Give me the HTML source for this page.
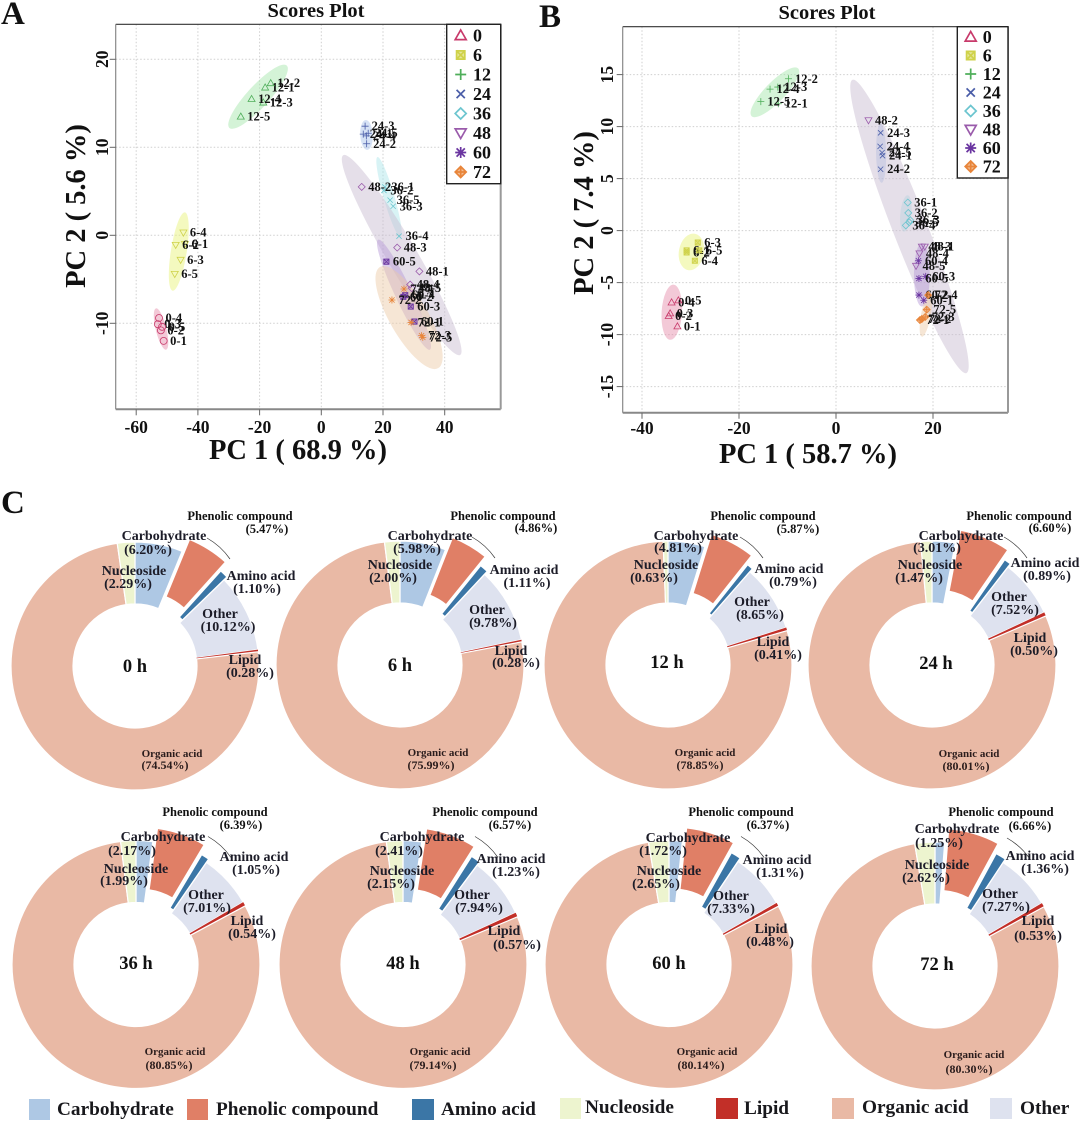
<!DOCTYPE html>
<html lang="en">
<head>
<meta charset="utf-8">
<title>Scores plots and metabolite composition donuts</title>
<style>
html,body{margin:0;padding:0;background:#fff;}
svg{display:block;}
text{font-family:"Liberation Serif",serif;font-weight:bold;fill:#111;}
.lb,.pc,.pp,.oa,.oap,.ctr,.axt,.sttl,.tick,.tk{text-anchor:middle;}
.lb{font-size:14px;fill:#1c1c28;}
.pc{font-size:12.5px;}
.pp{font-size:12.5px;}
.oa{font-size:11px;fill:#2a1c1c;}
.oap{font-size:12px;fill:#2a1c1c;}
.ctr{font-size:18.5px;}
.panel{font-size:33px;}
.axt{font-size:28.5px;}
.sttl{font-size:20.5px;}
.tick{font-size:17.5px;}
.leg{font-size:18px;}
.blg{font-size:19.3px;fill:#18181c;}
.ptl{font-size:12.5px;}
</style>
</head>
<body>
<svg id="figure" width="1080" height="1122" viewBox="0 0 1080 1122" xmlns="http://www.w3.org/2000/svg">
  <rect width="1080" height="1122" fill="#fff"/>
  <text class="panel" x="1" y="24">A</text>
  <text class="panel" x="539" y="27">B</text>
  <text class="panel" x="1" y="513">C</text>

  <text class="sttl" x="316" y="17">Scores Plot</text>
  <text class="sttl" x="827" y="19">Scores Plot</text>
  <text class="axt" x="298" y="459">PC 1 ( 68.9 %)</text>
  <text class="axt" x="808" y="463">PC 1 ( 58.7 %)</text>
  <text class="axt" transform="translate(85,206) rotate(-90)">PC 2 ( 5.6 %)</text>
  <text class="axt" transform="translate(593,213) rotate(-90)">PC 2 ( 7.4 %)</text>

  <g id="plot-a"></g>
  <g id="plot-b"></g>

  <g id="donuts"></g>

  <g>
    <text class="ctr" x="135" y="672">0 h</text>
    <text class="pc" x="240" y="520">Phenolic compound</text>
    <text class="pp" x="267" y="533">(5.47%)</text>
    <text class="lb" x="164" y="540">Carbohydrate</text>
    <text class="lb" x="148" y="554">(6.20%)</text>
    <text class="lb" x="134" y="575">Nucleoside</text>
    <text class="lb" x="128" y="588">(2.29%)</text>
    <text class="lb" x="261" y="580">Amino acid</text>
    <text class="lb" x="257" y="593">(1.10%)</text>
    <text class="lb" x="220" y="618">Other</text>
    <text class="lb" x="228" y="631">(10.12%)</text>
    <text class="lb" x="245" y="664">Lipid</text>
    <text class="lb" x="250" y="677">(0.28%)</text>
    <text class="oa" x="172" y="757">Organic acid</text>
    <text class="oap" x="165" y="769">(74.54%)</text>
  </g>
  <g>
    <text class="ctr" x="400" y="671">6 h</text>
    <text class="pc" x="503" y="520">Phenolic compound</text>
    <text class="pp" x="536" y="532">(4.86%)</text>
    <text class="lb" x="430" y="540">Carbohydrate</text>
    <text class="lb" x="417" y="553">(5.98%)</text>
    <text class="lb" x="400" y="569">Nucleoside</text>
    <text class="lb" x="393" y="582">(2.00%)</text>
    <text class="lb" x="524" y="574">Amino acid</text>
    <text class="lb" x="527" y="587">(1.11%)</text>
    <text class="lb" x="487" y="614">Other</text>
    <text class="lb" x="493" y="627">(9.78%)</text>
    <text class="lb" x="511" y="655">Lipid</text>
    <text class="lb" x="516" y="667">(0.28%)</text>
    <text class="oa" x="438" y="756">Organic acid</text>
    <text class="oap" x="431" y="769">(75.99%)</text>
  </g>
  <g>
    <text class="ctr" x="667" y="668">12 h</text>
    <text class="pc" x="763" y="520">Phenolic compound</text>
    <text class="pp" x="798" y="533">(5.87%)</text>
    <text class="lb" x="696" y="540">Carbohydrate</text>
    <text class="lb" x="678" y="552">(4.81%)</text>
    <text class="lb" x="666" y="569">Nucleoside</text>
    <text class="lb" x="654" y="582">(0.63%)</text>
    <text class="lb" x="789" y="573">Amino acid</text>
    <text class="lb" x="793" y="586">(0.79%)</text>
    <text class="lb" x="752" y="606">Other</text>
    <text class="lb" x="760" y="619">(8.65%)</text>
    <text class="lb" x="773" y="646">Lipid</text>
    <text class="lb" x="778" y="659">(0.41%)</text>
    <text class="oa" x="705" y="756">Organic acid</text>
    <text class="oap" x="700" y="769">(78.85%)</text>
  </g>
  <g>
    <text class="ctr" x="936" y="669">24 h</text>
    <text class="pc" x="1019" y="520">Phenolic compound</text>
    <text class="pp" x="1050" y="532">(6.60%)</text>
    <text class="lb" x="961" y="540">Carbohydrate</text>
    <text class="lb" x="937" y="552">(3.01%)</text>
    <text class="lb" x="930" y="569">Nucleoside</text>
    <text class="lb" x="919" y="582">(1.47%)</text>
    <text class="lb" x="1045" y="567">Amino acid</text>
    <text class="lb" x="1047" y="580">(0.89%)</text>
    <text class="lb" x="1009" y="601">Other</text>
    <text class="lb" x="1015" y="614">(7.52%)</text>
    <text class="lb" x="1030" y="642">Lipid</text>
    <text class="lb" x="1034" y="655">(0.50%)</text>
    <text class="oa" x="969" y="757">Organic acid</text>
    <text class="oap" x="966" y="770">(80.01%)</text>
  </g>
  <g>
    <text class="ctr" x="136" y="969">36 h</text>
    <text class="pc" x="215" y="816">Phenolic compound</text>
    <text class="pp" x="241" y="829">(6.39%)</text>
    <text class="lb" x="163" y="841">Carbohydrate</text>
    <text class="lb" x="132" y="855">(2.17%)</text>
    <text class="lb" x="136" y="873">Nucleoside</text>
    <text class="lb" x="124" y="885">(1.99%)</text>
    <text class="lb" x="254" y="861">Amino acid</text>
    <text class="lb" x="256" y="874">(1.05%)</text>
    <text class="lb" x="206" y="899">Other</text>
    <text class="lb" x="207" y="912">(7.01%)</text>
    <text class="lb" x="247" y="925">Lipid</text>
    <text class="lb" x="252" y="938">(0.54%)</text>
    <text class="oa" x="175" y="1055">Organic acid</text>
    <text class="oap" x="169" y="1069">(80.85%)</text>
  </g>
  <g>
    <text class="ctr" x="403" y="969">48 h</text>
    <text class="pc" x="485" y="816">Phenolic compound</text>
    <text class="pp" x="510" y="829">(6.57%)</text>
    <text class="lb" x="422" y="841">Carbohydrate</text>
    <text class="lb" x="399" y="855">(2.41%)</text>
    <text class="lb" x="402" y="875">Nucleoside</text>
    <text class="lb" x="391" y="888">(2.15%)</text>
    <text class="lb" x="511" y="863">Amino acid</text>
    <text class="lb" x="516" y="876">(1.23%)</text>
    <text class="lb" x="472" y="899">Other</text>
    <text class="lb" x="479" y="912">(7.94%)</text>
    <text class="lb" x="504" y="935">Lipid</text>
    <text class="lb" x="517" y="949">(0.57%)</text>
    <text class="oa" x="440" y="1055">Organic acid</text>
    <text class="oap" x="433" y="1069">(79.14%)</text>
  </g>
  <g>
    <text class="ctr" x="669" y="969">60 h</text>
    <text class="pc" x="741" y="816">Phenolic compound</text>
    <text class="pp" x="768" y="829">(6.37%)</text>
    <text class="lb" x="688" y="842">Carbohydrate</text>
    <text class="lb" x="663" y="855">(1.72%)</text>
    <text class="lb" x="669" y="875">Nucleoside</text>
    <text class="lb" x="656" y="888">(2.65%)</text>
    <text class="lb" x="777" y="864">Amino acid</text>
    <text class="lb" x="780" y="877">(1.31%)</text>
    <text class="lb" x="731" y="900">Other</text>
    <text class="lb" x="731" y="913">(7.33%)</text>
    <text class="lb" x="771" y="933">Lipid</text>
    <text class="lb" x="770" y="946">(0.48%)</text>
    <text class="oa" x="707" y="1055">Organic acid</text>
    <text class="oap" x="701" y="1069">(80.14%)</text>
  </g>
  <g>
    <text class="ctr" x="937" y="970">72 h</text>
    <text class="pc" x="1001" y="816">Phenolic compound</text>
    <text class="pp" x="1030" y="830">(6.66%)</text>
    <text class="lb" x="957" y="833">Carbohydrate</text>
    <text class="lb" x="939" y="847">(1.25%)</text>
    <text class="lb" x="937" y="869">Nucleoside</text>
    <text class="lb" x="926" y="882">(2.62%)</text>
    <text class="lb" x="1040" y="860">Amino acid</text>
    <text class="lb" x="1045" y="873">(1.36%)</text>
    <text class="lb" x="1000" y="898">Other</text>
    <text class="lb" x="1006" y="911">(7.27%)</text>
    <text class="lb" x="1038" y="925">Lipid</text>
    <text class="lb" x="1038" y="940">(0.53%)</text>
    <text class="oa" x="974" y="1058">Organic acid</text>
    <text class="oap" x="969" y="1073">(80.30%)</text>
  </g>

  <g>
    <rect x="29" y="1099" width="21" height="21" fill="#aec8e4"/>
    <text class="blg" x="57" y="1115">Carbohydrate</text>
    <rect x="187" y="1099" width="21" height="21" fill="#e07f66"/>
    <text class="blg" x="216" y="1115">Phenolic compound</text>
    <rect x="412" y="1099" width="22" height="21" fill="#3b76a6"/>
    <text class="blg" x="441" y="1115">Amino acid</text>
    <rect x="560" y="1098" width="21" height="21" fill="#edf4cf"/>
    <text class="blg" x="585" y="1113">Nucleoside</text>
    <rect x="716" y="1098" width="22" height="21" fill="#c22f28"/>
    <text class="blg" x="744" y="1114">Lipid</text>
    <rect x="832" y="1098" width="22" height="21" fill="#e9b9a5"/>
    <text class="blg" x="862" y="1113">Organic acid</text>
    <rect x="990" y="1098" width="22" height="21" fill="#dee2ef"/>
    <text class="blg" x="1020" y="1114">Other</text>
  </g>
</svg>

<script>
// ---------- Chart data ----------
const groupNames = ['0', '6', '12', '24', '36', '48', '60', '72'];

const xTicksA = [-60, -40, -20, 0, 20, 40];
const yTicksA = [-10, 0, 10, 20];
const xTicksB = [-40, -20, 0, 20];
const yTicksB = [-15, -10, -5, 0, 5, 10, 15];

const sampleNamesA = ['0-1','0-2','0-3','0-4','0-5','6-1','6-2','6-3','6-4','6-5','12-1','12-2','12-3','12-4','12-5','24-1','24-2','24-3','24-4','24-5','36-1','36-2','36-3','36-4','36-5','48-1','48-2','48-3','48-4','48-5','60-1','60-2','60-3','60-4','60-5','72-1','72-2','72-3','72-4','72-5'];
const pc1A = [-51.1,-52,-53,-52.6,-51.6,-44.2,-47.2,-45.6,-44.7,-47.5,-18.2,-16.4,-18.8,-22.6,-26.1,13.6,14.7,14.2,14.6,15.2,20.6,20.3,23.3,25.2,22.3,31.8,13.1,24.6,28.8,29.3,30.2,26.6,29,27.2,21.1,29.1,22.9,32.5,26.8,32.9];
const pc2A = [-12,-10.8,-10.1,-9.4,-10.4,-1,-1.1,-2.8,0.3,-4.4,16.8,17.3,15.1,15.5,13.5,11.5,10.4,12.4,11.3,11.6,5.5,5.1,3.3,-0.1,4,-4.1,5.5,-1.4,-5.6,-6,-9.8,-7,-8.1,-6.8,-3,-9.9,-7.35,-11.4,-6.1,-11.6];

const sampleNamesB = ['0-1','0-2','0-3','0-4','0-5','6-1','6-2','6-3','6-4','6-5','12-1','12-2','12-3','12-4','12-5','24-1','24-2','24-3','24-4','24-5','36-1','36-2','36-3','36-4','36-5','48-1','48-2','48-3','48-4','48-5','60-1','60-2','60-3','60-4','60-5','72-1','72-2','72-3','72-4','72-5'];
const pc1B = [-32.7,-34.5,-34.2,-33.9,-32.5,-30.8,-30.8,-28.5,-29.1,-28.2,-11.9,-9.8,-12,-13.6,-15.5,9.6,9.2,9.2,9.1,9.5,14.8,14.9,15.3,14.4,15.1,18.3,6.7,17.7,17.2,16.5,18.1,17.1,18.5,17,17.1,17.3,17.7,18.4,19,18.7];
const pc2B = [-9.2,-8.2,-7.95,-6.9,-6.7,-1.9,-2.1,-1.15,-2.9,-1.9,12.2,14.6,13.8,13.6,12.4,7.2,5.9,9.4,8.1,7.5,2.7,1.7,1,0.5,0.8,-1.55,10.6,-1.55,-2.2,-3.4,-6.7,-6.2,-4.4,-2.9,-4.6,-8.6,-8.5,-8.3,-6.2,-7.6];

// confidence-ellipse major-axis end points (PC units) and minor/major ratio, one per group
const ellipseX1A = [-53.6,-44.2,-29.8,14.4,18.2,7.1,18.4,19];
const ellipseY1A = [-8.3,2.6,12.2,13.1,8.9,9.1,-0.5,-3.6];
const ellipseX2A = [-50.3,-48.2,-11.2,14.9,25.7,45,35.2,37.9];
const ellipseY2A = [-13,-6.3,19.3,9.7,-0.2,-13.6,-13,-15.1];
const ellipseRatioA = [0.25,0.2,0.26,0.42,0.13,0.13,0.14,0.33];

const ellipseX1B = [-33.5,-29.1,-17.4,9.2,14.8,3.4,17.7,19.4];
const ellipseY1B = [-5.2,-0.3,11,10.3,3.4,14.5,-1.2,-6];
const ellipseX2B = [-34.2,-30.5,-7.8,9.4,14,26.9,17.7,17.7];
const ellipseY2B = [-10.5,-3.8,15.6,4.6,-0.1,-13.7,-7.3,-10.2];
const ellipseRatioB = [0.37,0.68,0.3,0.17,0.3,0.11,0.25,0.22];

// donut values (percent), one entry per time point
const timePoints = ['0h','6h','12h','24h','36h','48h','60h','72h'];
const carbohydrate = [6.20,5.98,4.81,3.01,2.17,2.41,1.72,1.25];
const phenolic = [5.47,4.86,5.87,6.60,6.39,6.57,6.37,6.66];
const aminoAcid = [1.10,1.11,0.79,0.89,1.05,1.23,1.31,1.36];
const other = [10.12,9.78,8.65,7.52,7.01,7.94,7.33,7.27];
const lipid = [0.28,0.28,0.41,0.50,0.54,0.57,0.48,0.53];
const organicAcid = [74.54,75.99,78.85,80.01,80.85,79.14,80.14,80.30];
const nucleoside = [2.29,2.00,0.63,1.47,1.99,2.15,2.65,2.62];

// ---------- Styles / layout ----------
const NS = 'http://www.w3.org/2000/svg';
const groupColor = ['#c83a6b','#cfd24a','#4fae5a','#4a5da8','#6cc5cf','#9a5bab','#6a35a0','#e8853a'];
const ellipseColor = ['#e58fab','#e8f27a','#a6e6ac','#a9c3ea','#aee6ea','#c9bdd2','#b79ad8','#eccba8'];
const shapesA = ['circle','tridown','triup','plus','cross','diamond','squarex','star'];
const shapesB = ['triup','squarefill','plus','cross','diamond','tridown','star','diamondplus'];
const shapesLegend = ['triup','squarefill','plus','cross','diamond','tridown','star','diamondplus'];

const xA = v => 321.3 + 3.085 * v;
const yA = v => 235.3 - 8.8 * v;
const xB = v => 836 + 4.85 * v;
const yB = v => 230.6 - 10.4 * v;

function mk(parent, tag, attrs) {
  const el = document.createElementNS(NS, tag);
  for (const k in attrs) el.setAttribute(k, attrs[k]);
  parent.appendChild(el);
  return el;
}

function symbolPath(shape, x, y, r) {
  const c = r * 0.75;
  const plus = `M${x-r} ${y}H${x+r}M${x} ${y-r}V${y+r}`;
  const cross = `M${x-c} ${y-c}L${x+c} ${y+c}M${x-c} ${y+c}L${x+c} ${y-c}`;
  const dia = `M${x} ${y-r}L${x+r} ${y}L${x} ${y+r}L${x-r} ${y}Z`;
  if (shape === 'circle') return `M${x-r} ${y}A${r} ${r} 0 1 0 ${x+r} ${y}A${r} ${r} 0 1 0 ${x-r} ${y}Z`;
  if (shape === 'triup') return `M${x} ${y-r}L${x+r} ${y+r*0.75}L${x-r} ${y+r*0.75}Z`;
  if (shape === 'tridown') return `M${x} ${y+r}L${x+r} ${y-r*0.75}L${x-r} ${y-r*0.75}Z`;
  if (shape === 'plus') return plus;
  if (shape === 'cross') return cross;
  if (shape === 'diamond') return dia;
  if (shape === 'diamondplus') return dia + plus;
  if (shape === 'star') return plus + cross;
  return `M${x-c} ${y-c}H${x+c}V${y+c}H${x-c}Z` + cross;
}

function drawSymbol(parent, shape, x, y, r, color, sw, name) {
  const filled = shape === 'squarefill' || shape === 'diamondplus' || shape === 'squarex';
  const fill = filled ? color : 'none';
  const el = mk(parent, 'path', {
    d: symbolPath(shape, x, y, r),
    fill: fill,
    'fill-opacity': shape === 'squarex' ? 0.4 : 0.55,
    stroke: color,
    'stroke-width': sw
  });
  
  
}

function drawPlot(root, plotId, box, X, Y, xTicks, yTicks, names, pc1, pc2, ex1, ey1, ex2, ey2, eRatio, shapes, legendBox, tickY, tickX) {
  // grid
  xTicks.forEach(t => {
    const el = mk(root, 'line', {x1: X(t), x2: X(t), y1: box.top, y2: box.bottom, stroke: '#cfcfcf', 'stroke-width': 1, 'stroke-dasharray': '1.5 2'});
    
    
  });
  yTicks.forEach(t => {
    const el = mk(root, 'line', {x1: box.left, x2: box.right, y1: Y(t), y2: Y(t), stroke: '#cfcfcf', 'stroke-width': 1, 'stroke-dasharray': '1.5 2'});
    
    
  });
  // ellipses
  groupNames.forEach((g, i) => {
    const x1 = X(ex1[i]), y1 = Y(ey1[i]), x2 = X(ex2[i]), y2 = Y(ey2[i]);
    const cx = (x1 + x2) / 2, cy = (y1 + y2) / 2;
    const rx = Math.hypot(x2 - x1, y2 - y1) / 2;
    const ang = Math.atan2(y2 - y1, x2 - x1) * 180 / Math.PI;
    const el = mk(root, 'ellipse', {cx: cx, cy: cy, rx: rx, ry: rx * eRatio[i], transform: `rotate(${ang} ${cx} ${cy})`, fill: ellipseColor[i], 'fill-opacity': 0.48});
    
    
  });
  // axes frame
  const frame = [
    [box.left, box.top, box.right, box.top, '#333', 1.2],
    [box.left, box.top, box.left, box.bottom, '#888', 1.2],
    [box.left, box.bottom, box.right, box.bottom, '#888', 2],
    [box.right, box.top, box.right, box.bottom, '#999', 2]
  ];
  frame.forEach(f => {
    const el = mk(root, 'line', {x1: f[0], y1: f[1], x2: f[2], y2: f[3], stroke: f[4], 'stroke-width': f[5]});
    
    
  });
  // ticks and labels
  xTicks.forEach(t => {
    const m = mk(root, 'line', {x1: X(t), x2: X(t), y1: box.bottom, y2: box.bottom + 6, stroke: '#666', 'stroke-width': 1});
    
    
    const el = mk(root, 'text', {x: X(t), y: tickY, class: 'tick'});
    
    
    el.textContent = t;
  });
  yTicks.forEach(t => {
    const m = mk(root, 'line', {x1: box.left - 6, x2: box.left, y1: Y(t), y2: Y(t), stroke: '#666', 'stroke-width': 1});
    
    
    const el = mk(root, 'text', {transform: `translate(${tickX},${Y(t)}) rotate(-90)`, class: 'tick'});
    
    
    el.textContent = t;
  });
  // points
  names.forEach((n, i) => {
    const g = groupNames.indexOf(n.split('-')[0]);
    const px = X(pc1[i]), py = Y(pc2[i]);
    drawSymbol(root, shapes[g], px, py, 3.5, groupColor[g], 0.8, plotId + '-point-' + n);
    const el = mk(root, 'text', {x: px + 6.5, y: py + 4, class: 'ptl'});
    
    
    el.textContent = n;
  });
  // legend
  const frameL = mk(root, 'rect', {x: legendBox.left, y: box.top, width: box.right - legendBox.left, height: legendBox.bottom - box.top, fill: '#fff', stroke: '#222', 'stroke-width': 1.4});
  
  
  groupNames.forEach((g, i) => {
    const ly = legendBox.first + legendBox.step * i;
    drawSymbol(root, shapesLegend[i], legendBox.sym, ly, 5.5, groupColor[i], 1.7, plotId + '-legend-symbol-' + g);
    const el = mk(root, 'text', {x: legendBox.txt, y: ly + 6, class: 'leg'});
    
    
    el.textContent = g;
  });
}

drawPlot(document.getElementById('plot-a'), 'plot-a',
  {left: 115.7, right: 500.7, top: 24.3, bottom: 409.3}, xA, yA, xTicksA, yTicksA,
  sampleNamesA, pc1A, pc2A, ellipseX1A, ellipseY1A, ellipseX2A, ellipseY2A, ellipseRatioA, shapesA,
  {left: 446.7, bottom: 183.7, first: 35.5, step: 19.5, sym: 460.7, txt: 473}, 433, 108);

drawPlot(document.getElementById('plot-b'), 'plot-b',
  {left: 622.7, right: 1008, top: 26.7, bottom: 412.7}, xB, yB, xTicksB, yTicksB,
  sampleNamesB, pc1B, pc2B, ellipseX1B, ellipseY1B, ellipseX2B, ellipseY2B, ellipseRatioB, shapesB,
  {left: 957.3, bottom: 178, first: 37, step: 18.5, sym: 970.7, txt: 982.7}, 434, 613);

// ---------- Donuts ----------
const sliceSeries = [carbohydrate, phenolic, aminoAcid, other, lipid, organicAcid, nucleoside];
const sliceNames = ['carbohydrate','phenolic-compound','amino-acid','other','lipid','organic-acid','nucleoside'];
const sliceColors = ['#aec8e4','#e07f66','#3b76a6','#dee2ef','#c22f28','#e9b9a5','#edf4cf'];
const explodeBy = [0, 14, 4, 0, 0, 0, 0];
const donutCx = [135,400,668,932,136,403,669,935];
const donutCy = [666,665,665,665,964.5,964.5,964.5,966];
const R_OUT = 124, R_IN = 62;

function arcPath(cx, cy, a0, a1) {
  const p = (r, a) => [cx + r * Math.sin(a), cy - r * Math.cos(a)];
  const big = a1 - a0 > Math.PI ? 1 : 0;
  const o0 = p(R_OUT, a0), o1 = p(R_OUT, a1), i1 = p(R_IN, a1), i0 = p(R_IN, a0);
  return `M${o0[0]} ${o0[1]}A${R_OUT} ${R_OUT} 0 ${big} 1 ${o1[0]} ${o1[1]}L${i1[0]} ${i1[1]}A${R_IN} ${R_IN} 0 ${big} 0 ${i0[0]} ${i0[1]}Z`;
}

const donutRoot = document.getElementById('donuts');
timePoints.forEach((tp, t) => {
  const cx = donutCx[t], cy = donutCy[t];
  const total = sliceSeries.reduce((s, arr) => s + arr[t], 0);
  let acc = 0;
  sliceSeries.forEach((arr, s) => {
    const a0 = acc / total * 2 * Math.PI;
    acc += arr[t];
    const a1 = acc / total * 2 * Math.PI;
    const mid = (a0 + a1) / 2;
    const ox = explodeBy[s] * Math.sin(mid), oy = -explodeBy[s] * Math.cos(mid);
    const el = mk(donutRoot, 'path', {d: arcPath(cx + ox, cy + oy, a0, a1), fill: sliceColors[s], stroke: '#fff', 'stroke-width': s === 4 ? 0 : 1.2});
    
    
  });
  const leader = mk(donutRoot, 'path', {d: `M${cx + 72} ${cy - 128}Q${cx + 86} ${cy - 120} ${cx + 95} ${cy - 107}`, fill: 'none', stroke: '#333', 'stroke-width': 0.7});
  
  
});
</script>
</body>
</html>
